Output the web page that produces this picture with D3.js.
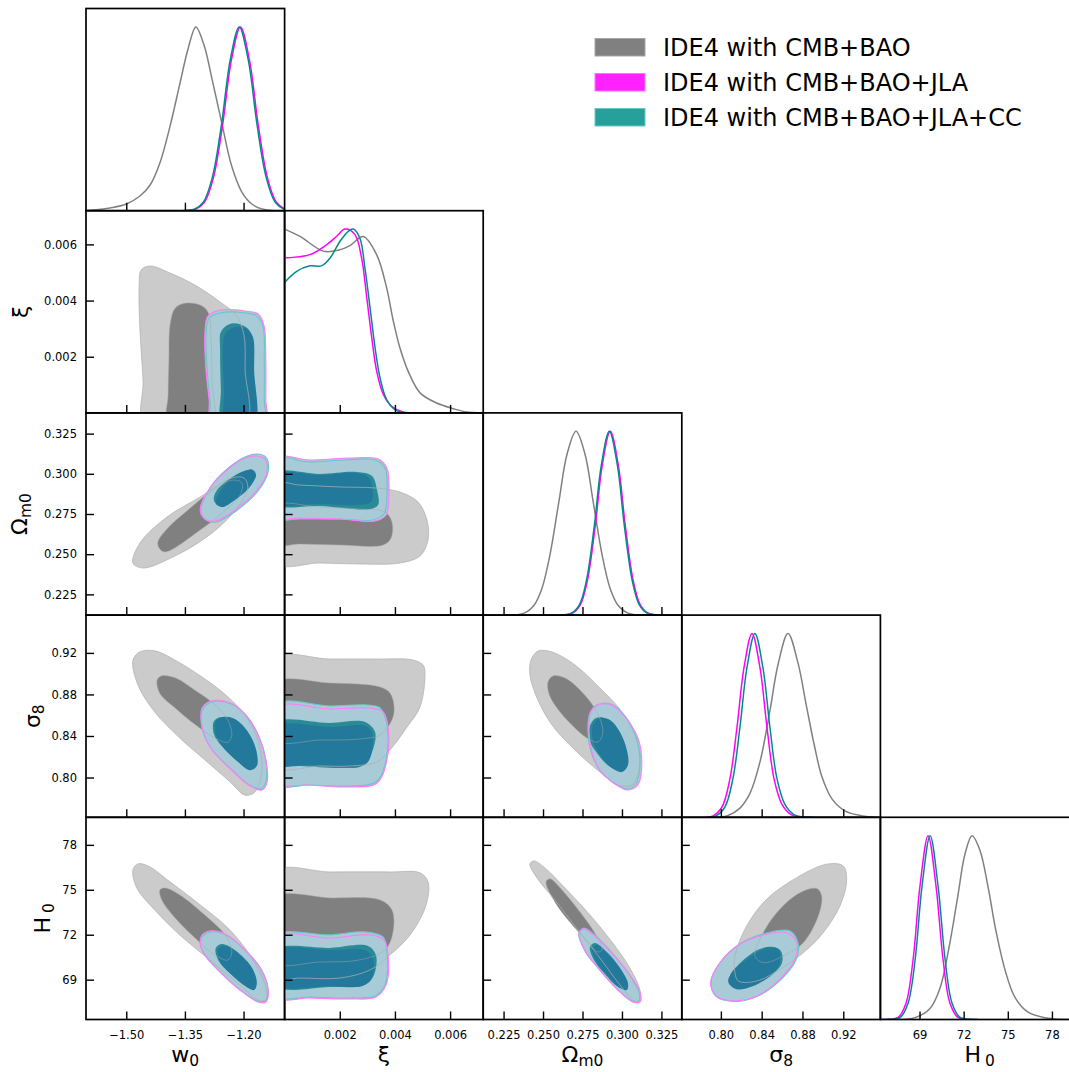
<!DOCTYPE html>
<html><head><meta charset="utf-8">
<script src="https://cdn.jsdelivr.net/npm/d3@7"></script>
<style>body{margin:0;background:#fff;} svg{display:block;font-family:"DejaVu Sans",sans-serif;}</style>
</head><body>
<script>
// ---------- parameter axes ----------
const paramKeys = ["w0", "xi", "om", "s8", "h0"];
const rangeW0 = [-1.603, -1.095];
const rangeXi = [0, 0.0072];
const rangeOm = [0.2121, 0.3379];
const rangeS8 = [0.7617, 0.9564];
const rangeH0 = [66.34, 79.84];
const ticksW0 = [-1.50, -1.35, -1.20];
const ticksXi = [0.002, 0.004, 0.006];
const ticksOm = [0.225, 0.250, 0.275, 0.300, 0.325];
const ticksS8 = [0.80, 0.84, 0.88, 0.92];
const ticksH0 = [69, 72, 75, 78];
const tickLabelsW0 = ["\u22121.50", "\u22121.35", "\u22121.20"];
const tickLabelsXi = ["0.002", "0.004", "0.006"];
const tickLabelsOm = ["0.225", "0.250", "0.275", "0.300", "0.325"];
const tickLabelsS8 = ["0.80", "0.84", "0.88", "0.92"];
const tickLabelsH0 = ["69", "72", "75", "78"];

// legend
const seriesNames = ["IDE4 with CMB+BAO", "IDE4 with CMB+BAO+JLA", "IDE4 with CMB+BAO+JLA+CC"];

// ---------- 1D marginal densities (normalised to peak 1) ----------
const pdfW0Base = [[-1.620,0],[-1.577,0.005],[-1.542,0.015],[-1.501,0.035],[-1.465,0.08],[-1.439,0.14],[-1.414,0.26],[-1.388,0.46],[-1.363,0.69],[-1.342,0.88],[-1.322,1.0],[-1.301,0.9],[-1.281,0.72],[-1.255,0.47],[-1.230,0.24],[-1.204,0.10],[-1.178,0.035],[-1.153,0.01],[-1.120,0],[-1.090,0]];
const pdfW0Jla = [[-1.360,0],[-1.323,0.008],[-1.300,0.046],[-1.277,0.18],[-1.254,0.46],[-1.231,0.82],[-1.208,1.0],[-1.185,0.82],[-1.162,0.46],[-1.139,0.18],[-1.116,0.046],[-1.093,0.008],[-1.070,0]];
const pdfW0Cc = [[-1.360,0],[-1.326,0.008],[-1.303,0.046],[-1.280,0.18],[-1.257,0.46],[-1.234,0.82],[-1.211,1.0],[-1.188,0.82],[-1.165,0.46],[-1.142,0.18],[-1.119,0.046],[-1.096,0.008],[-1.073,0]];

const pdfXiBase = [[0,1.0],[0.00056,0.96],[0.0014,0.88],[0.00195,0.885],[0.00237,0.91],[0.00285,0.96],[0.00334,0.86],[0.0037,0.68],[0.00394,0.50],[0.00418,0.354],[0.00448,0.226],[0.00491,0.109],[0.00551,0.054],[0.00612,0.023],[0.0066,0.005],[0.0072,0]];
const pdfXiJla = [[0,0.843],[0.00092,0.861],[0.00153,0.916],[0.00189,0.961],[0.00219,1.0],[0.00255,0.97],[0.00279,0.843],[0.00298,0.626],[0.00316,0.408],[0.00334,0.226],[0.00358,0.10],[0.00388,0.036],[0.0043,0.005],[0.0050,0]];
const pdfXiCc = [[0,0.71],[0.00044,0.77],[0.00092,0.80],[0.00134,0.80],[0.00165,0.843],[0.00201,0.934],[0.00231,0.988],[0.00249,1.0],[0.00273,0.95],[0.00291,0.79],[0.0031,0.57],[0.00328,0.354],[0.00346,0.19],[0.0037,0.072],[0.004,0.018],[0.00436,0],[0.0050,0]];

const pdfOmBase = [[0.225,0],[0.2380,0.011],[0.2443,0.054],[0.2494,0.148],[0.2544,0.328],[0.2601,0.62],[0.2652,0.875],[0.2709,1.0],[0.2766,0.875],[0.2817,0.62],[0.2874,0.328],[0.2924,0.148],[0.2975,0.054],[0.3038,0.011],[0.315,0]];
const pdfOmJla = [[0.262,0],[0.2685,0.01],[0.2736,0.056],[0.2780,0.184],[0.2831,0.487],[0.2875,0.815],[0.2926,1.0],[0.2977,0.815],[0.3021,0.487],[0.3072,0.184],[0.3116,0.056],[0.3167,0.01],[0.325,0]];
const pdfOmCc = [[0.261,0],[0.2679,0.01],[0.2730,0.056],[0.2774,0.184],[0.2825,0.487],[0.2869,0.815],[0.2920,1.0],[0.2971,0.815],[0.3015,0.487],[0.3066,0.184],[0.3110,0.056],[0.3161,0.01],[0.324,0]];

const pdfS8Base = [[0.795,0],[0.8070,0.01],[0.8187,0.05],[0.8285,0.13],[0.8383,0.3],[0.8481,0.58],[0.8560,0.83],[0.8658,1.0],[0.8756,0.84],[0.8834,0.62],[0.8913,0.4],[0.8991,0.22],[0.9089,0.1],[0.9216,0.035],[0.9367,0.01],[0.9510,0]];
const pdfS8Jla = [[0.785,0],[0.7923,0.008],[0.8011,0.056],[0.8089,0.21],[0.8158,0.49],[0.8227,0.815],[0.8305,1.0],[0.8383,0.815],[0.8452,0.49],[0.8521,0.21],[0.8599,0.07],[0.8687,0.015],[0.8775,0.002],[0.888,0]];
const pdfS8Cc = [[0.788,0],[0.7952,0.008],[0.8040,0.056],[0.8118,0.21],[0.8187,0.49],[0.8256,0.815],[0.8334,1.0],[0.8412,0.815],[0.8481,0.49],[0.8550,0.21],[0.8628,0.07],[0.8716,0.015],[0.8804,0.002],[0.891,0]];

const pdfH0Base = [[67.5,0],[68.69,0.01],[69.71,0.06],[70.39,0.17],[71.07,0.42],[71.62,0.68],[72.09,0.9],[72.57,1.0],[73.11,0.92],[73.66,0.72],[74.20,0.48],[74.81,0.27],[75.49,0.12],[76.38,0.04],[77.53,0.01],[78.89,0],[80,0]];
const pdfH0Jla = [[66.3,0],[66.86,0.001],[67.54,0.011],[68.08,0.089],[68.56,0.325],[69.03,0.726],[69.58,1.0],[70.12,0.726],[70.60,0.325],[71.07,0.089],[71.62,0.011],[72.30,0.001],[72.9,0]];
const pdfH0Cc = [[66.4,0],[67.00,0.001],[67.68,0.011],[68.22,0.089],[68.70,0.325],[69.17,0.726],[69.72,1.0],[70.26,0.726],[70.74,0.325],[71.21,0.089],[71.76,0.011],[72.44,0.001],[73.0,0]];

// ---------- 2D contours (outer = 95%, inner = 68%) ----------
// xi vs w0
const xiW0BaseOut = [[-1.452,-0.00043],[-1.457,0.00117],[-1.465,0.00295],[-1.467,0.00455],[-1.462,0.00509],[-1.439,0.00523],[-1.388,0.00498],[-1.324,0.00455],[-1.260,0.00395],[-1.219,0.00348],[-1.199,0.00277],[-1.196,0.00153],[-1.196,-0.00043]];
const xiW0BaseIn = [[-1.393,-0.00043],[-1.393,0.00064],[-1.391,0.00188],[-1.388,0.00313],[-1.375,0.00373],[-1.347,0.00391],[-1.311,0.00384],[-1.291,0.00359],[-1.283,0.0026],[-1.281,0.00117],[-1.281,-0.00043]];
const xiW0JlaOut = [[-1.281,-0.00043],[-1.288,0.00046],[-1.296,0.00153],[-1.299,0.00277],[-1.291,0.00345],[-1.260,0.00366],[-1.196,0.00363],[-1.163,0.00352],[-1.148,0.00313],[-1.143,0.00188],[-1.143,0.00046],[-1.143,-0.00043]];
const xiW0CcOut = [[-1.278,-0.00043],[-1.286,0.00046],[-1.293,0.00153],[-1.296,0.00274],[-1.288,0.00338],[-1.260,0.00356],[-1.196,0.00356],[-1.166,0.00345],[-1.150,0.00306],[-1.147,0.00188],[-1.147,0.00046],[-1.147,-0.00043]];
const xiW0JlaIn = [[-1.245,-0.00043],[-1.250,0.00082],[-1.253,0.00224],[-1.247,0.00281],[-1.222,0.00306],[-1.191,0.00299],[-1.176,0.0027],[-1.173,0.00153],[-1.173,-0.00043]];
const xiW0CcIn = [[-1.255,-0.00043],[-1.258,0.00082],[-1.260,0.00224],[-1.258,0.00288],[-1.237,0.00316],[-1.209,0.00316],[-1.186,0.00295],[-1.178,0.00242],[-1.178,0.00117],[-1.181,-0.00043]];

// Omega_m0 vs w0
const omW0BaseOut = [[-1.483,0.2445],[-1.457,0.2414],[-1.381,0.2482],[-1.294,0.2607],[-1.227,0.2756],[-1.189,0.2912],[-1.199,0.2974],[-1.230,0.2974],[-1.311,0.2856],[-1.396,0.2731],[-1.465,0.2569]];
const omW0BaseIn = [[-1.416,0.2538],[-1.401,0.2513],[-1.311,0.2650],[-1.255,0.2756],[-1.209,0.2868],[-1.204,0.2943],[-1.227,0.2961],[-1.278,0.2899],[-1.345,0.2769],[-1.396,0.2657],[-1.419,0.2576]];
const omW0JlaOut = [[-1.311,0.2775],[-1.299,0.2719],[-1.273,0.2706],[-1.222,0.2775],[-1.166,0.2899],[-1.140,0.3011],[-1.145,0.3092],[-1.168,0.3111],[-1.196,0.3098],[-1.242,0.3024],[-1.286,0.2912]];
const omW0CcOut = [[-1.309,0.2769],[-1.296,0.2713],[-1.271,0.2700],[-1.219,0.2769],[-1.163,0.2893],[-1.137,0.3017],[-1.143,0.3104],[-1.166,0.3123],[-1.196,0.3104],[-1.242,0.3030],[-1.286,0.2912]];
const omW0JlaIn = [[-1.271,0.2818],[-1.255,0.2793],[-1.222,0.2837],[-1.184,0.2918],[-1.168,0.2992],[-1.176,0.3024],[-1.196,0.3017],[-1.235,0.2961],[-1.263,0.2880]];
const omW0CcIn = [[-1.276,0.2837],[-1.263,0.2800],[-1.227,0.2837],[-1.189,0.2912],[-1.171,0.2986],[-1.178,0.3024],[-1.199,0.3017],[-1.240,0.2961],[-1.271,0.2887]];

// sigma_8 vs w0
const s8W0BaseOut = [[-1.483,0.913],[-1.465,0.921],[-1.427,0.922],[-1.375,0.913],[-1.311,0.898],[-1.247,0.880],[-1.196,0.860],[-1.163,0.836],[-1.153,0.807],[-1.171,0.786],[-1.196,0.783],[-1.235,0.796],[-1.299,0.817],[-1.363,0.838],[-1.427,0.863],[-1.470,0.889]];
const s8W0BaseIn = [[-1.421,0.894],[-1.409,0.898],[-1.375,0.896],[-1.324,0.884],[-1.273,0.870],[-1.240,0.855],[-1.230,0.841],[-1.240,0.834],[-1.273,0.838],[-1.324,0.851],[-1.375,0.867],[-1.414,0.881]];
const s8W0JlaOut = [[-1.306,0.867],[-1.281,0.874],[-1.235,0.872],[-1.196,0.861],[-1.163,0.841],[-1.143,0.817],[-1.140,0.795],[-1.153,0.788],[-1.184,0.792],[-1.230,0.807],[-1.281,0.827],[-1.304,0.846]];
const s8W0CcOut = [[-1.304,0.866],[-1.278,0.873],[-1.232,0.871],[-1.194,0.860],[-1.161,0.840],[-1.143,0.817],[-1.143,0.796],[-1.155,0.789],[-1.186,0.793],[-1.232,0.808],[-1.283,0.828],[-1.306,0.847]];
const s8W0JlaIn = [[-1.271,0.854],[-1.255,0.858],[-1.222,0.856],[-1.189,0.844],[-1.168,0.827],[-1.166,0.811],[-1.184,0.807],[-1.214,0.815],[-1.250,0.828],[-1.271,0.841]];
const s8W0CcIn = [[-1.276,0.854],[-1.260,0.858],[-1.227,0.857],[-1.194,0.846],[-1.173,0.828],[-1.171,0.813],[-1.189,0.809],[-1.219,0.817],[-1.255,0.830],[-1.276,0.842]];

// H0 vs w0
const h0W0BaseOut = [[-1.483,76.33],[-1.470,76.73],[-1.444,76.59],[-1.388,75.53],[-1.311,73.99],[-1.240,72.45],[-1.184,70.65],[-1.145,68.64],[-1.143,67.64],[-1.163,67.64],[-1.209,68.64],[-1.286,70.31],[-1.363,71.98],[-1.427,73.65],[-1.473,75.12]];
const h0W0BaseIn = [[-1.414,74.99],[-1.401,75.12],[-1.363,74.66],[-1.299,73.32],[-1.247,71.98],[-1.230,70.85],[-1.240,70.31],[-1.273,70.65],[-1.324,71.78],[-1.375,73.12],[-1.409,74.32]];
const h0W0JlaOut = [[-1.306,71.98],[-1.286,72.25],[-1.247,72.05],[-1.196,70.98],[-1.158,69.78],[-1.137,68.31],[-1.143,67.51],[-1.163,67.51],[-1.209,68.31],[-1.260,69.51],[-1.299,70.65],[-1.311,71.52]];
const h0W0CcOut = [[-1.304,71.92],[-1.283,72.19],[-1.245,71.98],[-1.194,70.92],[-1.155,69.71],[-1.137,68.31],[-1.145,67.58],[-1.166,67.58],[-1.212,68.38],[-1.263,69.58],[-1.301,70.72],[-1.311,71.45]];
const h0W0JlaIn = [[-1.265,71.05],[-1.250,71.25],[-1.214,70.78],[-1.178,69.78],[-1.166,68.78],[-1.173,68.31],[-1.196,68.58],[-1.230,69.31],[-1.260,70.18]];
const h0W0CcIn = [[-1.271,71.12],[-1.255,71.38],[-1.219,70.92],[-1.184,69.91],[-1.171,68.91],[-1.178,68.44],[-1.201,68.71],[-1.235,69.45],[-1.265,70.31]];

// Omega_m0 vs xi
const omXiBaseOut = [[-0.00035,0.2936],[0.00056,0.2930],[0.00201,0.2918],[0.00328,0.2912],[0.00418,0.2887],[0.00484,0.2824],[0.00516,0.2713],[0.00520,0.2588],[0.00491,0.2489],[0.00418,0.2445],[0.00273,0.2439],[0.00128,0.2445],[-0.00035,0.2445]];
const omXiBaseIn = [[-0.00035,0.2800],[0.00128,0.2793],[0.00273,0.2781],[0.00364,0.2762],[0.00389,0.2700],[0.00386,0.2601],[0.00357,0.2557],[0.00201,0.2557],[0.00056,0.2563],[-0.00035,0.2563]];
const omXiJlaOut = [[-0.00035,0.3098],[0.00092,0.3086],[0.00237,0.3098],[0.00339,0.3092],[0.00371,0.3036],[0.00378,0.2868],[0.00368,0.2744],[0.00328,0.2706],[0.00201,0.2719],[0.00056,0.2725],[-0.00035,0.2731]];
const omXiCcOut = [[-0.00035,0.3092],[0.00092,0.3073],[0.00219,0.3086],[0.00328,0.3086],[0.00364,0.3036],[0.00371,0.2868],[0.00360,0.2750],[0.00317,0.2713],[0.00201,0.2719],[0.00056,0.2719],[-0.00035,0.2725]];
const omXiJlaIn = [[-0.00035,0.2999],[0.00128,0.2992],[0.00255,0.3005],[0.00302,0.2980],[0.00320,0.2899],[0.00313,0.2824],[0.00273,0.2806],[0.00128,0.2812],[-0.00035,0.2818]];
const omXiCcIn = [[-0.00035,0.3005],[0.00128,0.2999],[0.00262,0.3011],[0.00317,0.2986],[0.00335,0.2899],[0.00339,0.2806],[0.00310,0.2781],[0.00128,0.2800],[-0.00035,0.2812]];

// sigma_8 vs xi
const s8XiBaseOut = [[-0.00035,0.9141],[0.00165,0.9141],[0.00346,0.9141],[0.00465,0.9132],[0.00502,0.9084],[0.00509,0.9007],[0.00491,0.868],[0.00444,0.8487],[0.00382,0.8265],[0.00335,0.815],[0.00237,0.8111],[0.00128,0.8111],[-0.00035,0.8111]];
const s8XiBaseIn = [[-0.00035,0.891],[0.00165,0.891],[0.00346,0.8872],[0.00382,0.8814],[0.00397,0.868],[0.00389,0.8554],[0.00346,0.841],[0.00273,0.8371],[0.00128,0.8361],[-0.00035,0.8361]];
const s8XiJlaOut = [[-0.00035,0.867],[0.00165,0.866],[0.0031,0.867],[0.00357,0.8631],[0.00375,0.8487],[0.00371,0.8169],[0.00335,0.7947],[0.00226,0.7909],[0.00092,0.7928],[-0.00035,0.7957]];
const s8XiCcOut = [[-0.00035,0.8698],[0.00165,0.8689],[0.00302,0.8698],[0.00346,0.867],[0.00371,0.8506],[0.00368,0.8169],[0.00331,0.7957],[0.00223,0.7918],[0.00092,0.7928],[-0.00035,0.7938]];
const s8XiJlaIn = [[-0.00035,0.8487],[0.00165,0.8487],[0.00302,0.8487],[0.0032,0.8361],[0.00299,0.814],[0.00226,0.8101],[0.00092,0.8121],[-0.00035,0.814]];
const s8XiCcIn = [[-0.00035,0.8525],[0.00165,0.8525],[0.00291,0.8535],[0.00328,0.8438],[0.00317,0.8246],[0.00281,0.8111],[0.00201,0.8092],[0.00056,0.8111],[-0.00035,0.8121]];

// H0 vs xi
const h0XiBaseOut = [[-0.00035,76.19],[0.00165,76.19],[0.00382,76.19],[0.00491,76.13],[0.0052,75.53],[0.00513,73.99],[0.00455,71.99],[0.00382,70.65],[0.0031,69.65],[0.00201,69.11],[0.00056,69.11],[-0.00035,69.11]];
const h0XiBaseIn = [[-0.00035,74.46],[0.00165,74.46],[0.00346,74.32],[0.00389,73.66],[0.00393,72.19],[0.00364,70.98],[0.00273,70.32],[0.00128,70.18],[-0.00035,70.18]];
const h0XiJlaOut = [[-0.00035,71.85],[0.00165,71.78],[0.0031,71.99],[0.0036,71.65],[0.00375,70.65],[0.00368,68.65],[0.00331,67.84],[0.00237,67.71],[0.00092,67.78],[-0.00035,67.84]];
const h0XiCcOut = [[-0.00035,71.92],[0.00165,71.99],[0.00291,72.19],[0.00357,71.85],[0.00371,70.85],[0.00364,68.65],[0.00328,67.91],[0.00237,67.78],[0.00092,67.84],[-0.00035,67.91]];
const h0XiJlaIn = [[-0.00035,70.92],[0.00165,70.98],[0.00291,70.98],[0.0032,70.45],[0.00317,69.11],[0.00281,68.58],[0.00165,68.58],[-0.00035,68.65]];
const h0XiCcIn = [[-0.00035,70.98],[0.00165,71.12],[0.00302,71.25],[0.00331,70.65],[0.00324,69.31],[0.00291,68.65],[0.00165,68.51],[-0.00035,68.58]];

// sigma_8 vs Omega_m0
const s8OmBaseOut = [[0.2424,0.9132],[0.2468,0.9218],[0.2557,0.9209],[0.2702,0.9084],[0.2860,0.8862],[0.3000,0.8631],[0.3088,0.8381],[0.3114,0.8121],[0.3063,0.7928],[0.2974,0.7928],[0.2860,0.8053],[0.2702,0.8265],[0.2557,0.8506],[0.2462,0.8766],[0.2417,0.8987]];
const s8OmBaseIn = [[0.2531,0.8920],[0.2563,0.8978],[0.2639,0.8958],[0.2746,0.8824],[0.2841,0.8631],[0.2879,0.8438],[0.2848,0.8342],[0.2778,0.8381],[0.2683,0.8506],[0.2588,0.8670],[0.2538,0.8804]];
const s8OmJlaOut = [[0.2803,0.8631],[0.2848,0.8698],[0.2936,0.8698],[0.3025,0.8573],[0.3101,0.8381],[0.3126,0.8150],[0.3101,0.7928],[0.3038,0.7880],[0.2955,0.7938],[0.2860,0.8072],[0.2810,0.8246],[0.2791,0.8458]];
const s8OmCcOut = [[0.2797,0.8621],[0.2841,0.8698],[0.2930,0.8708],[0.3019,0.8593],[0.3088,0.8400],[0.3114,0.8150],[0.3088,0.7938],[0.3031,0.7890],[0.2949,0.7947],[0.2854,0.8082],[0.2803,0.8255],[0.2784,0.8458]];
const s8OmJlaIn = [[0.2816,0.8506],[0.2860,0.8573],[0.2924,0.8554],[0.2987,0.8438],[0.3031,0.8265],[0.3038,0.8121],[0.3000,0.8053],[0.2936,0.8092],[0.2860,0.8217],[0.2816,0.8361]];
const s8OmCcIn = [[0.2797,0.8496],[0.2835,0.8573],[0.2905,0.8564],[0.2968,0.8458],[0.3012,0.8284],[0.3019,0.8130],[0.2981,0.8072],[0.2917,0.8111],[0.2841,0.8236],[0.2797,0.8352]];

// H0 vs Omega_m0
const h0OmBaseOut = [[0.2417,76.73],[0.2443,76.93],[0.2512,76.46],[0.2639,75.12],[0.2797,73.32],[0.2936,71.52],[0.3050,69.78],[0.3114,68.31],[0.3114,67.51],[0.3076,67.58],[0.2987,68.65],[0.2860,70.45],[0.2721,72.32],[0.2575,74.32],[0.2462,75.79]];
const h0OmBaseIn = [[0.2519,75.53],[0.2544,75.73],[0.2620,74.99],[0.2734,73.52],[0.2835,71.99],[0.2873,70.98],[0.2848,70.85],[0.2784,71.52],[0.2670,72.85],[0.2575,74.19]];
const h0OmJlaOut = [[0.2727,72.05],[0.2759,72.39],[0.2841,71.78],[0.2949,70.58],[0.3050,69.31],[0.3114,68.18],[0.3114,67.51],[0.3069,67.51],[0.2974,68.31],[0.2860,69.65],[0.2772,70.85]];
const h0OmCcOut = [[0.2727,72.12],[0.2759,72.45],[0.2835,71.92],[0.2943,70.72],[0.3044,69.38],[0.3107,68.18],[0.3107,67.58],[0.3063,67.58],[0.2968,68.38],[0.2854,69.71],[0.2765,70.92]];
const h0OmJlaIn = [[0.2810,71.12],[0.2841,71.32],[0.2911,70.72],[0.2987,69.78],[0.3038,68.78],[0.3031,68.31],[0.2987,68.44],[0.2911,69.25],[0.2841,70.18]];
const h0OmCcIn = [[0.2797,71.18],[0.2829,71.45],[0.2898,70.92],[0.2974,69.98],[0.3025,68.98],[0.3019,68.44],[0.2968,68.58],[0.2892,69.38],[0.2822,70.32]];

// H0 vs sigma_8
const h0S8BaseOut = [[0.8138,69.47],[0.8138,70.58],[0.8253,72.59],[0.8449,74.37],[0.8743,75.81],[0.9037,76.71],[0.9200,76.59],[0.9233,75.59],[0.9167,73.92],[0.9004,72.14],[0.8808,70.80],[0.8579,69.69],[0.8351,68.91],[0.8171,68.91]];
const h0S8BaseIn = [[0.8334,70.58],[0.8383,71.70],[0.8547,73.47],[0.8775,74.81],[0.8939,75.08],[0.8988,74.59],[0.8955,73.25],[0.8808,71.47],[0.8612,70.58],[0.8416,70.13]];
const h0S8JlaOut = [[0.7900,68.80],[0.7991,70.13],[0.8187,71.36],[0.8449,72.03],[0.8645,72.14],[0.8743,71.47],[0.8726,70.36],[0.8579,69.03],[0.8351,67.91],[0.8122,67.58],[0.7959,67.91]];
const h0S8CcOut = [[0.7903,68.84],[0.7996,70.18],[0.8192,71.41],[0.8452,72.12],[0.8677,72.25],[0.8759,71.36],[0.8736,70.31],[0.8589,69.01],[0.8354,67.88],[0.8122,67.55],[0.7953,67.88]];
const h0S8JlaIn = [[0.8073,69.03],[0.8155,69.80],[0.8351,70.80],[0.8481,71.14],[0.8563,71.03],[0.8579,70.13],[0.8481,69.25],[0.8318,68.58],[0.8155,68.36],[0.8083,68.69]];
const h0S8CcIn = [[0.8089,69.25],[0.8173,70.01],[0.8369,71.01],[0.8514,71.18],[0.8589,70.91],[0.8599,70.11],[0.8500,69.31],[0.8334,68.71],[0.8168,68.51],[0.8099,68.84]];

// ---------- lookup tables built from the arrays above ----------
const ranges = [rangeW0, rangeXi, rangeOm, rangeS8, rangeH0];
const ticks = [ticksW0, ticksXi, ticksOm, ticksS8, ticksH0];
const tickLabels = [tickLabelsW0, tickLabelsXi, tickLabelsOm, tickLabelsS8, tickLabelsH0];
const marginals = [
  [pdfW0Base, pdfW0Jla, pdfW0Cc],
  [pdfXiBase, pdfXiJla, pdfXiCc],
  [pdfOmBase, pdfOmJla, pdfOmCc],
  [pdfS8Base, pdfS8Jla, pdfS8Cc],
  [pdfH0Base, pdfH0Jla, pdfH0Cc]
];
const contours = {
  "1-0": [xiW0BaseOut, xiW0BaseIn, xiW0CcOut, xiW0JlaOut, xiW0CcIn, xiW0JlaIn],
  "2-0": [omW0BaseOut, omW0BaseIn, omW0CcOut, omW0JlaOut, omW0CcIn, omW0JlaIn],
  "3-0": [s8W0BaseOut, s8W0BaseIn, s8W0CcOut, s8W0JlaOut, s8W0CcIn, s8W0JlaIn],
  "4-0": [h0W0BaseOut, h0W0BaseIn, h0W0CcOut, h0W0JlaOut, h0W0CcIn, h0W0JlaIn],
  "2-1": [omXiBaseOut, omXiBaseIn, omXiCcOut, omXiJlaOut, omXiCcIn, omXiJlaIn],
  "3-1": [s8XiBaseOut, s8XiBaseIn, s8XiCcOut, s8XiJlaOut, s8XiCcIn, s8XiJlaIn],
  "4-1": [h0XiBaseOut, h0XiBaseIn, h0XiCcOut, h0XiJlaOut, h0XiCcIn, h0XiJlaIn],
  "3-2": [s8OmBaseOut, s8OmBaseIn, s8OmCcOut, s8OmJlaOut, s8OmCcIn, s8OmJlaIn],
  "4-2": [h0OmBaseOut, h0OmBaseIn, h0OmCcOut, h0OmJlaOut, h0OmCcIn, h0OmJlaIn],
  "4-3": [h0S8BaseOut, h0S8BaseIn, h0S8CcOut, h0S8JlaOut, h0S8CcIn, h0S8JlaIn]
};

// ---------- styling ----------
const lineColors = ["#808080", "#ff00ff", "#008b8b"];
// fill order: base outer, base inner, CC outer, JLA outer, CC inner, JLA inner
const contourFills = ["#cbcbcb", "#808080", "#a8cbd7", "#a8cbd7", "#2a8b97", "#23799b"];
const legendFills = ["#808080", "#ff22ff", "#27a09b"];
const legendEdges = ["#a6a6a6", "#ff70ff", "#6cc7c2"];

const width = 1069, height = 1072;
const gridLeft = 86, gridTop = 8.5, cellW = 198.6, cellH = 202.2;
const font = "DejaVu Sans";

const svg = d3.select("body").append("svg")
  .attr("width", width).attr("height", height)
  .style("overflow", "hidden");
const defs = svg.append("defs");

const cellX = c => gridLeft + c * cellW;
const cellY = r => gridTop + r * cellH;
const xScaleFor = c => d3.scaleLinear().domain(ranges[c]).range([cellX(c), cellX(c) + cellW]);
const yScaleFor = r => d3.scaleLinear().domain(ranges[r]).range([cellY(r) + cellH, cellY(r)]);

const smoothLine = d3.line().curve(d3.curveCatmullRom.alpha(0.5));
const smoothLoop = d3.line().curve(d3.curveCatmullRomClosed.alpha(0.5));

for (let r = 0; r < 5; r++) {
  for (let c = 0; c <= r; c++) {
    const id = `clip-${r}-${c}`;
    defs.append("clipPath").attr("id", id).append("rect")
      .attr("x", cellX(c)).attr("y", cellY(r)).attr("width", cellW).attr("height", cellH);
    const g = svg.append("g").attr("clip-path", `url(#${id})`);
    const xs = xScaleFor(c);

    if (r === c) {
      // 1D marginal
      const ys = d3.scaleLinear().domain([0, 1.1]).range([cellY(r) + cellH, cellY(r)]);
      marginals[c].forEach((pts, k) => {
        g.append("path")
          .attr("d", smoothLine(pts.map(p => [xs(p[0]), ys(p[1])])))
          .attr("fill", "none").attr("stroke", lineColors[k])
          .attr("stroke-width", 1.5).attr("stroke-linejoin", "round");
      });
    } else {
      const ys = yScaleFor(r);
      const set = contours[`${r}-${c}`];
      const toPx = pts => pts.map(p => [xs(p[0]), ys(p[1])]);
      set.forEach((pts, k) => {
        g.append("path").attr("d", smoothLoop(toPx(pts))).attr("fill", contourFills[k]);
      });
      // contour outlines
      g.append("path").attr("d", smoothLoop(toPx(set[0])))
        .attr("fill", "none").attr("stroke", "#b0b0b0").attr("stroke-width", 0.9).attr("stroke-opacity", 0.8);
      g.append("path").attr("d", smoothLoop(toPx(set[1])))
        .attr("fill", "none").attr("stroke", "#a8a8a8").attr("stroke-width", 0.8).attr("stroke-opacity", 0.6);
      g.append("path").attr("d", smoothLoop(toPx(set[2])))
        .attr("fill", "none").attr("stroke", "#6cc7c2").attr("stroke-width", 1.1);
      g.append("path").attr("d", smoothLoop(toPx(set[3])))
        .attr("fill", "none").attr("stroke", "#ff7cff").attr("stroke-width", 1.1);
    }

    // bottom ticks (inward)
    const bottomAxis = d3.axisBottom(xs).tickValues(ticks[c]).tickSize(-8).tickPadding(11)
      .tickFormat((d, i) => r === 4 ? tickLabels[c][i] : "");
    const gb = svg.append("g").attr("transform", `translate(0,${cellY(r) + cellH})`).call(bottomAxis);
    gb.select(".domain").remove();
    gb.attr("font-family", font).attr("font-size", 11.5);
    gb.selectAll("line").attr("stroke", "#000").attr("stroke-width", 1.4);
    gb.selectAll("text").attr("fill", "#000");

    if (c < r) {
      const ys = yScaleFor(r);
      const leftAxis = d3.axisLeft(ys).tickValues(ticks[r]).tickSize(-8).tickPadding(9)
        .tickFormat((d, i) => c === 0 ? tickLabels[r][i] : "");
      const gl = svg.append("g").attr("transform", `translate(${cellX(c)},0)`).call(leftAxis);
      gl.select(".domain").remove();
      gl.attr("font-family", font).attr("font-size", 11.5);
      gl.selectAll("line").attr("stroke", "#000").attr("stroke-width", 1.4);
      gl.selectAll("text").attr("fill", "#000");
    }

    // panel frame
    svg.append("rect").attr("x", cellX(c)).attr("y", cellY(r))
      .attr("width", cellW).attr("height", cellH)
      .attr("fill", "none").attr("stroke", "#000").attr("stroke-width", 1.7);
  }
}

// ---------- axis labels ----------
const axisTitles = [["w", "0"], ["\u03be", ""], ["\u03a9", "m0"], ["\u03c3", "8"], ["H", "0"]];
const subGap = [0, 0, 0, 0, 4];
function writeTitle(t, k) {
  t.append("tspan").text(axisTitles[k][0]);
  if (axisTitles[k][1]) {
    t.append("tspan").attr("dx", subGap[k]).attr("dy", 4).attr("font-size", 15.5).text(axisTitles[k][1]);
  }
}
for (let c = 0; c < 5; c++) {
  const t = svg.append("text").attr("x", cellX(c) + cellW / 2).attr("y", 1062)
    .attr("text-anchor", "middle").attr("font-family", font).attr("font-size", 22).attr("fill", "#000");
  writeTitle(t, c);
}
const yTitleX = [0, 28, 27, 40, 50];
for (let r = 1; r < 5; r++) {
  const t = svg.append("text")
    .attr("transform", `translate(${yTitleX[r]},${cellY(r) + cellH / 2}) rotate(-90)`)
    .attr("text-anchor", "middle").attr("font-family", font).attr("font-size", 22).attr("fill", "#000");
  writeTitle(t, r);
}

// ---------- legend ----------
const legend = svg.append("g").attr("font-family", font).attr("font-size", 24);
seriesNames.forEach((name, i) => {
  const y0 = 38.5 + i * 35;
  legend.append("rect").attr("x", 595).attr("y", y0).attr("width", 50).attr("height", 17.5)
    .attr("fill", legendFills[i]).attr("stroke", legendEdges[i]).attr("stroke-width", 1);
  legend.append("text").attr("x", 663).attr("y", y0 + 17.3).attr("fill", "#000").text(name);
});
</script>
</body></html>
